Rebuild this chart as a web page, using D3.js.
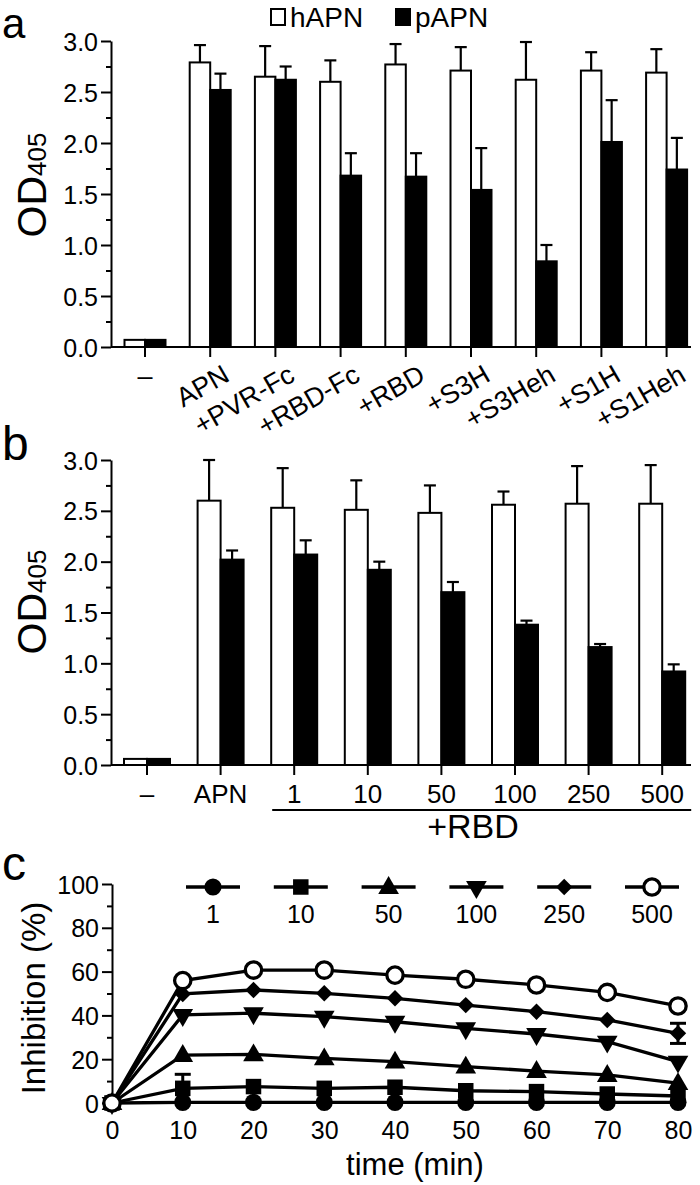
<!DOCTYPE html>
<html><head><meta charset="utf-8">
<script src="https://cdn.jsdelivr.net/npm/d3@7"></script>
<style>
body{margin:0;background:#fff}
svg{display:block}
text{font-family:"Liberation Sans",Arial,Helvetica,sans-serif;fill:#000}
</style>
</head><body><svg id="chart" width="700" height="1185"></svg>
<script>
// ---------- Panel a data ----------
const catsA = ["–","APN","+PVR-Fc","+RBD-Fc","+RBD","+S3H","+S3Heh","+S1H","+S1Heh"];
const hApnA = [0.07,2.79,2.65,2.60,2.77,2.71,2.62,2.71,2.69];
const hErrA = [0,0.17,0.30,0.21,0.20,0.23,0.37,0.18,0.23];
const pApnA = [0.07,2.52,2.62,1.68,1.67,1.54,0.84,2.01,1.74];
const pErrA = [0,0.16,0.13,0.22,0.23,0.41,0.16,0.41,0.31];
// ---------- Panel b data ----------
const catsB = ["–","APN","1","10","50","100","250","500"];
const hApnB = [0.06,2.60,2.53,2.51,2.48,2.56,2.57,2.57];
const hErrB = [0,0.40,0.39,0.29,0.27,0.13,0.37,0.38];
const pApnB = [0.06,2.02,2.07,1.92,1.70,1.38,1.16,0.92];
const pErrB = [0,0.09,0.14,0.08,0.10,0.04,0.03,0.07];
const odTicks = [0,0.5,1.0,1.5,2.0,2.5,3.0];
const odMinor = [0.25,0.75,1.25,1.75,2.25,2.75];
const seriesNames = ["hAPN","pAPN"];
// ---------- Panel c data ----------
const times = [0,10,20,30,40,50,60,70,80];
const doses = ["1","10","50","100","250","500"];
const inh1   = [0,0.3,0.3,0.3,0.3,0.3,0.3,0.3,0.3];
const inh10  = [0,6.7,7.5,6.7,7.2,5.6,5.2,4.1,3.2];
const inh50  = [0,21.9,22.2,20.4,18.9,16.6,14.6,12.8,9.1];
const inh100 = [0,40.2,41.0,39.4,37.1,34.1,31.5,28.0,18.9];
const inh250 = [0,49.8,51.6,50.1,47.8,44.7,41.7,37.9,31.8];
const inh500 = [0,55.9,60.7,60.7,58.4,56.5,53.9,50.5,44.3];
const err10  = [0,6.4,0,0,0,0,0,0,0];
const err250 = [0,0,0,0,0,0,0,0,4.6];
const inhTicks = [0,20,40,60,80,100];
const inhMinor = [10,30,50,70,90];
const timeTicks = [0,10,20,30,40,50,60,70,80];

const svg = d3.select("#chart");
const FONT_TICK = 25;

function panelLetter(t, x, y, fs){
  svg.append("text").attr("x",x).attr("y",y).attr("font-size",fs).text(t);
}

function odYLabel(cx, cy){
  const t = svg.append("text")
    .attr("transform",`translate(${cx},${cy}) rotate(-90)`)
    .attr("text-anchor","middle");
  t.append("tspan").attr("font-size",41).text("OD");
  t.append("tspan").attr("font-size",26).text("405");
}

function barPanel(cats, hv, he, pv, pe, y0px, y3px, centerFirst, step, barW, xEnd, rotated){
  const y = d3.scaleLinear().domain([0,3]).range([y0px,y3px]);
  const x = d3.scaleBand().domain(cats)
    .range([centerFirst - step/2, centerFirst - step/2 + step*cats.length]).padding(0);
  const xs = d3.scaleBand().domain(seriesNames).range([-barW, barW]);
  const axisX = 111;
  const g = svg.append("g");
  const rows = cats.map((c,i)=>({c, vals:[{s:"hAPN",v:hv[i],e:he[i]},{s:"pAPN",v:pv[i],e:pe[i]}]}));
  const grp = g.selectAll("g.grp").data(rows).join("g")
    .attr("transform",d=>`translate(${x(d.c)+x.bandwidth()/2},0)`);
  const bars = grp.selectAll("g.b").data(d=>d.vals).join("g");
  bars.filter(d=>d.e>0).append("line")
    .attr("x1",d=>xs(d.s)+xs.bandwidth()/2).attr("x2",d=>xs(d.s)+xs.bandwidth()/2)
    .attr("y1",d=>y(d.v)).attr("y2",d=>y(d.v+d.e))
    .attr("stroke","#000").attr("stroke-width",2.2);
  bars.filter(d=>d.e>0).append("line")
    .attr("x1",d=>xs(d.s)+xs.bandwidth()/2-6).attr("x2",d=>xs(d.s)+xs.bandwidth()/2+6)
    .attr("y1",d=>y(d.v+d.e)).attr("y2",d=>y(d.v+d.e))
    .attr("stroke","#000").attr("stroke-width",2.2);
  bars.append("rect")
    .attr("x",d=>xs(d.s)).attr("width",xs.bandwidth())
    .attr("y",d=>y(d.v)).attr("height",d=>y(0)-y(d.v))
    .attr("fill",d=>d.s==="hAPN"?"#fff":"#000")
    .attr("stroke","#000").attr("stroke-width",2);

  const ya = g.append("g").attr("transform",`translate(${axisX},0)`)
    .call(d3.axisLeft(y).tickValues(odTicks).tickSize(10).tickSizeOuter(0).tickPadding(3).tickFormat(d3.format(".1f")));
  g.append("g").attr("transform",`translate(${axisX},0)`)
    .call(d3.axisLeft(y).tickValues(odMinor).tickSize(5).tickFormat(""))
    .select(".domain").remove();
  g.selectAll(".tick line").attr("stroke","#000").attr("stroke-width",2);
  ya.select(".domain").attr("stroke","#000").attr("stroke-width",2);
  ya.selectAll("text").attr("font-size",FONT_TICK).attr("font-family",null).attr("dy","0.36em");

  const xa = g.append("g").attr("transform",`translate(0,${y0px})`)
    .call(d3.axisBottom(x).tickSize(10).tickSizeOuter(0));
  xa.select(".domain").attr("d",`M${axisX},0H${xEnd}`).attr("stroke","#000").attr("stroke-width",2);
  xa.selectAll(".tick line").attr("stroke","#000").attr("stroke-width",2);
  xa.selectAll("text").attr("font-family",null).attr("dy",null);
  if(rotated){
    xa.selectAll(".tick text").attr("font-size",27).each(function(d){
      const t = d3.select(this);
      if(d==="–"){ t.attr("y",38).attr("text-anchor","middle"); }
      else { t.attr("y",0).attr("x",0).attr("text-anchor","end")
               .attr("transform","translate(21,33) rotate(-30)"); }
    });
  } else {
    xa.selectAll(".tick text").attr("font-size",26).attr("y",38);
  }
  return {x,y};
}

// ---------- Panel a ----------
panelLetter("a", 2, 38, 42);
barPanel(catsA, hApnA, hErrA, pApnA, pErrA, 347, 41, 145, 65.2, 20.5, 691, true);
odYLabel(46, 185);
const leg = svg.append("g");
const legItems = [{s:"hAPN",x:271},{s:"pAPN",x:396}];
leg.selectAll("rect").data(legItems).join("rect")
  .attr("x",d=>d.x).attr("y",9).attr("width",14).attr("height",16)
  .attr("fill",d=>d.s==="hAPN"?"#fff":"#000").attr("stroke","#000").attr("stroke-width",2);
leg.selectAll("text").data(legItems).join("text")
  .attr("x",d=>d.x+19).attr("y",27).attr("font-size",28).text(d=>d.s);

// ---------- Panel b ----------
panelLetter("b", 2, 460, 48);
const pb = barPanel(catsB, hApnB, hErrB, pApnB, pErrB, 765, 460, 147, 73.6, 23, 691, false);
odYLabel(46, 602);
const rbdCats = catsB.slice(2);
svg.append("line")
  .attr("x1",pb.x(rbdCats[0])+pb.x.bandwidth()/2-22)
  .attr("x2",pb.x(rbdCats[rbdCats.length-1])+pb.x.bandwidth()/2+29)
  .attr("y1",810).attr("y2",810).attr("stroke","#000").attr("stroke-width",2);
svg.append("text").attr("x",473).attr("y",838).attr("text-anchor","middle")
  .attr("font-size",34).text("+RBD");

// ---------- Panel c ----------
panelLetter("c", 2, 880, 48);
const xc = d3.scaleLinear().domain([0,80]).range([112,678]);
const yc = d3.scaleLinear().domain([0,100]).range([1103,884]);
const gc = svg.append("g");
const yca = gc.append("g").attr("transform","translate(112,0)")
  .call(d3.axisLeft(yc).tickValues(inhTicks).tickSize(10).tickSizeOuter(0).tickPadding(3));
gc.append("g").attr("transform","translate(112,0)")
  .call(d3.axisLeft(yc).tickValues(inhMinor).tickSize(5).tickFormat(""))
  .select(".domain").remove();
gc.selectAll(".tick line").attr("stroke","#000").attr("stroke-width",2);
yca.select(".domain").attr("stroke","#000").attr("stroke-width",2);
yca.selectAll("text").attr("font-size",25).attr("font-family",null).attr("dy","0.36em");
const xca = gc.append("g").attr("transform","translate(0,1103)")
  .call(d3.axisBottom(xc).tickValues(timeTicks).tickSize(0).tickPadding(0));
xca.select(".domain").remove();
xca.selectAll("text").attr("font-size",25).attr("font-family",null).attr("dy",null).attr("y",36);
gc.append("text").attr("x",415).attr("y",1175).attr("text-anchor","middle")
  .attr("font-size",31).text("time (min)");
gc.append("text").attr("transform","translate(45,998) rotate(-90)")
  .attr("text-anchor","middle").attr("font-size",33).text("Inhibition (%)");

const series = [
  {dose:"1",  vals:inh1,  err:null,  shape:"circle"},
  {dose:"10", vals:inh10, err:err10, shape:"square"},
  {dose:"50", vals:inh50, err:null,  shape:"tri"},
  {dose:"100",vals:inh100,err:null,  shape:"tridown"},
  {dose:"250",vals:inh250,err:err250,shape:"diamond"},
  {dose:"500",vals:inh500,err:null,  shape:"open"}
];
function symPath(shape){
  if(shape==="circle") return d3.symbol(d3.symbolCircle,230)();
  if(shape==="square") return d3.symbol(d3.symbolSquare,240)();
  if(shape==="tri") return d3.symbol(d3.symbolTriangle,185)();
  if(shape==="tridown") return d3.symbol(d3.symbolTriangle,185)();
  if(shape==="diamond") return d3.symbol(d3.symbolSquare,135)();
  if(shape==="open") return d3.symbol(d3.symbolCircle,210)();
}
function symTransform(shape){
  if(shape==="tridown") return " rotate(180)";
  if(shape==="diamond") return " rotate(45)";
  if(shape==="tri") return " translate(0,1)";
  return "";
}
const line = d3.line().x((d,i)=>xc(times[i])).y(d=>yc(d));
series.filter(s=>s.err).forEach(s=>{
  const eg = gc.append("g");
  const pts = times.map((t,i)=>({t,v:s.vals[i],e:s.err[i]})).filter(d=>d.e>0);
  eg.selectAll("line.v").data(pts).join("line")
    .attr("x1",d=>xc(d.t)).attr("x2",d=>xc(d.t))
    .attr("y1",d=>yc(d.v-d.e)).attr("y2",d=>yc(d.v+d.e))
    .attr("stroke","#000").attr("stroke-width",3);
  eg.selectAll("line.t").data(pts).join("line")
    .attr("x1",d=>xc(d.t)-8).attr("x2",d=>xc(d.t)+8)
    .attr("y1",d=>yc(d.v+d.e)).attr("y2",d=>yc(d.v+d.e))
    .attr("stroke","#000").attr("stroke-width",3);
  eg.selectAll("line.b").data(pts.filter(d=>d.v-d.e>0.5)).join("line")
    .attr("x1",d=>xc(d.t)-8).attr("x2",d=>xc(d.t)+8)
    .attr("y1",d=>yc(d.v-d.e)).attr("y2",d=>yc(d.v-d.e))
    .attr("stroke","#000").attr("stroke-width",3);
});
series.forEach(s=>{
  gc.append("path").datum(s.vals).attr("d",line)
    .attr("fill","none").attr("stroke","#000").attr("stroke-width",3.3);
});
series.forEach(s=>{
  gc.append("g").selectAll("path").data(s.vals).join("path")
    .attr("d",symPath(s.shape))
    .attr("transform",(d,i)=>`translate(${xc(times[i])},${yc(d)})`+symTransform(s.shape))
    .attr("fill",s.shape==="open"?"#fff":"#000")
    .attr("stroke","#000").attr("stroke-width",s.shape==="open"?3.3:0);
});
const legC = d3.scalePoint().domain(doses).range([213,652]);
const lg = gc.append("g");
series.forEach(s=>{
  const cx = legC(s.dose);
  lg.append("line").attr("x1",cx-27).attr("x2",cx+27).attr("y1",887).attr("y2",887)
    .attr("stroke","#000").attr("stroke-width",3.3);
  lg.append("path").attr("d",symPath(s.shape))
    .attr("transform",`translate(${cx},887)`+symTransform(s.shape))
    .attr("fill",s.shape==="open"?"#fff":"#000")
    .attr("stroke","#000").attr("stroke-width",s.shape==="open"?3.3:0);
  lg.append("text").attr("x",cx).attr("y",923).attr("text-anchor","middle")
    .attr("font-size",25).text(s.dose);
});
</script>
</body></html>
